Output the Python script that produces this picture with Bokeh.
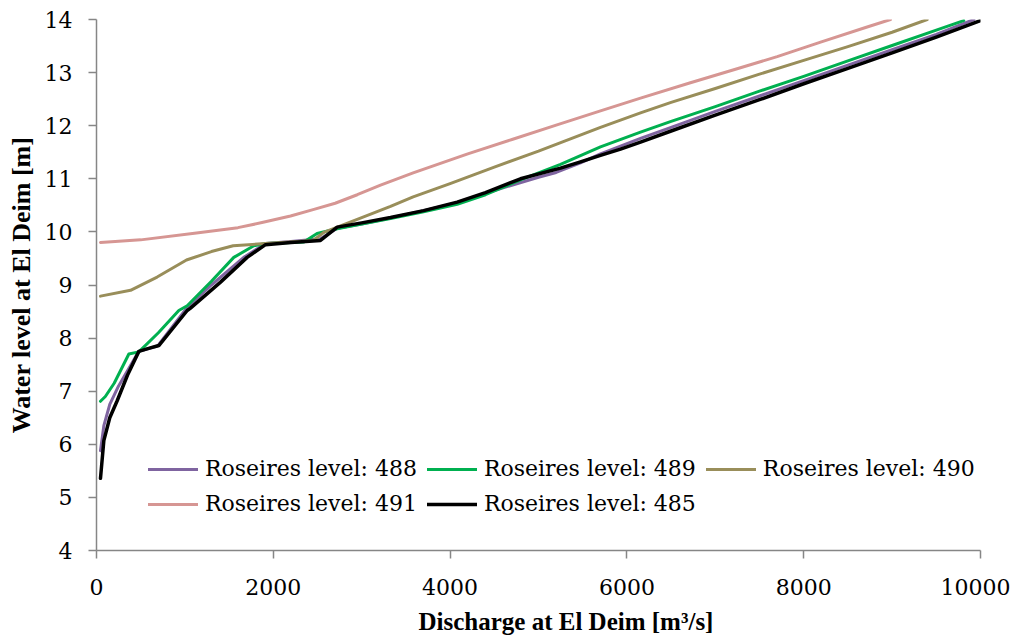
from bokeh.plotting import figure
from bokeh.models import Range1d, Legend, LegendItem, Title, FixedTicker
from bokeh.embed import file_html
from bokeh.resources import INLINE

# ---- data (discharge m3/s, water level m) ----
q488 = [45, 83, 150, 250, 479, 690, 1026, 1300, 1666, 1912, 2200, 2534, 2723, 3000, 3326, 3700,
        4080, 4500, 5000, 5200, 5475, 5701, 6154, 6500, 7000, 7500, 8000, 8500, 9000, 9500, 9925]
h488 = [5.88, 6.35, 6.75, 7.10, 7.75, 7.85, 8.58, 9.00, 9.52, 9.78, 9.82, 9.87, 10.07, 10.15, 10.26, 10.40,
        10.55, 10.78, 11.03, 11.12, 11.30, 11.47, 11.76, 11.97, 12.27, 12.56, 12.85, 13.14, 13.43, 13.72, 14.0]

q489 = [45, 100, 200, 366, 479, 700, 931, 1026, 1300, 1553, 1780, 1912, 2345, 2495, 2723, 3000, 3326,
        3700, 4080, 4400, 4796, 5249, 5701, 6154, 6500, 7000, 7500, 8000, 8500, 9000, 9500, 9810]
h489 = [6.81, 6.90, 7.15, 7.70, 7.74, 8.10, 8.52, 8.61, 9.07, 9.52, 9.74, 9.78, 9.81, 9.97, 10.06, 10.15, 10.25,
        10.38, 10.52, 10.70, 10.98, 11.27, 11.60, 11.88, 12.08, 12.36, 12.65, 12.93, 13.22, 13.51, 13.80, 13.98]

q490 = [45, 385, 686, 1018, 1300, 1546, 1912, 2451, 2571, 3000, 3326, 3582, 4000, 4500, 5000, 5701, 6154,
        6500, 7000, 7500, 8000, 8500, 9000, 9397]
h490 = [8.79, 8.90, 9.15, 9.47, 9.63, 9.74, 9.78, 9.84, 9.99, 10.27, 10.48, 10.66, 10.91, 11.22, 11.52, 11.97, 12.24,
        12.44, 12.70, 12.97, 13.23, 13.49, 13.76, 14.0]

q491 = [45, 500, 1131, 1600, 1885, 2195, 2450, 2700, 2950, 3213, 3582, 4200, 4700, 5200, 5701, 6154, 6700, 7200,
        7700, 8200, 8700, 8982]
h491 = [9.80, 9.85, 9.98, 10.08, 10.18, 10.30, 10.42, 10.54, 10.70, 10.88, 11.11, 11.47, 11.74, 12.01, 12.28, 12.52,
        12.80, 13.05, 13.30, 13.58, 13.85, 14.0]

q485 = [45, 83, 150, 234, 350, 479, 600, 705, 1026, 1060, 1400, 1704, 1912, 2200, 2534, 2723, 3000, 3326,
        3700, 4080, 4400, 4796, 5249, 5475, 5701, 5928, 6154, 6500, 7000, 7500, 8000, 8500, 9000, 9500, 10000]
h485 = [5.36, 6.07, 6.50, 6.82, 7.30, 7.75, 7.81, 7.86, 8.52, 8.56, 9.05, 9.52, 9.76, 9.80, 9.84, 10.09, 10.17, 10.27,
        10.40, 10.56, 10.74, 11.00, 11.20, 11.32, 11.44, 11.56, 11.69, 11.90, 12.20, 12.49, 12.79, 13.08, 13.37, 13.67, 13.98]

series_names = ["Roseires level: 488", "Roseires level: 489", "Roseires level: 490",
                "Roseires level: 491", "Roseires level: 485"]
series_colors = ["#7F64A0", "#00B050", "#998E5A", "#D69693", "#000000"]
series_widths = [3, 3, 3, 3, 3.5]

x_ticks = [0, 2000, 4000, 6000, 8000, 10000]
y_ticks = [4, 5, 6, 7, 8, 9, 10, 11, 12, 13, 14]

x_label = "Discharge at El Deim [m\u00b3/s]"
y_label = "Water level at El Deim [m]"

# ---- figure ----
p = figure(frame_width=884, frame_height=531,
           x_range=Range1d(0, 10000), y_range=Range1d(4, 14),
           output_backend="svg", toolbar_location=None,
           min_border_left=96, min_border_top=19, min_border_right=30, min_border_bottom=80)
p.outline_line_color = None
p.grid.visible = False
p.background_fill_color = "white"
p.border_fill_color = "white"

for ax, ticks in ((p.xaxis, x_ticks), (p.yaxis, y_ticks)):
    ax.ticker = FixedTicker(ticks=ticks)
    ax.axis_line_color = "#868686"
    ax.axis_line_width = 1.5
    ax.major_tick_line_color = "#868686"
    ax.major_tick_line_width = 1.5
    ax.major_tick_in = 0
    ax.major_tick_out = 8
    ax.minor_tick_line_color = None
    ax.major_label_text_font = "DejaVu Serif"
    ax.major_label_text_font_size = "22px"
    ax.major_label_text_color = "black"

p.xaxis.major_label_standoff = 20
p.yaxis.major_label_standoff = 16
p.yaxis.axis_label = y_label
p.yaxis.axis_label_text_font = "Liberation Serif"
p.yaxis.axis_label_text_font_style = "bold"
p.yaxis.axis_label_text_font_size = "26px"
p.yaxis.axis_label_text_color = "black"
p.yaxis.axis_label_standoff = 6

xt = Title(text=x_label, align="left", offset=322, text_font="Liberation Serif",
           text_font_style="bold", text_font_size="25px", text_color="black", standoff=16)
p.add_layout(xt, "below")

qs = [q488, q489, q490, q491, q485]
hs = [h488, h489, h490, h491, h485]
items = []
for q, h, name, c, w in zip(qs, hs, series_names, series_colors, series_widths):
    r = p.line(q, h, line_color=c, line_width=w, line_join="round", line_cap="round")
    items.append(LegendItem(label=name, renderers=[r]))

legend = Legend(items=items, location=(52, 34), orientation="horizontal", ncols=3,
                border_line_color=None, background_fill_alpha=0, padding=0, margin=0,
                spacing=10, glyph_width=50, glyph_height=20, label_height=20,
                label_standoff=7, label_text_font="DejaVu Serif", label_text_font_size="22px",
                label_text_color="black")
p.add_layout(legend)

open("out.html", "w").write(file_html(p, INLINE))
